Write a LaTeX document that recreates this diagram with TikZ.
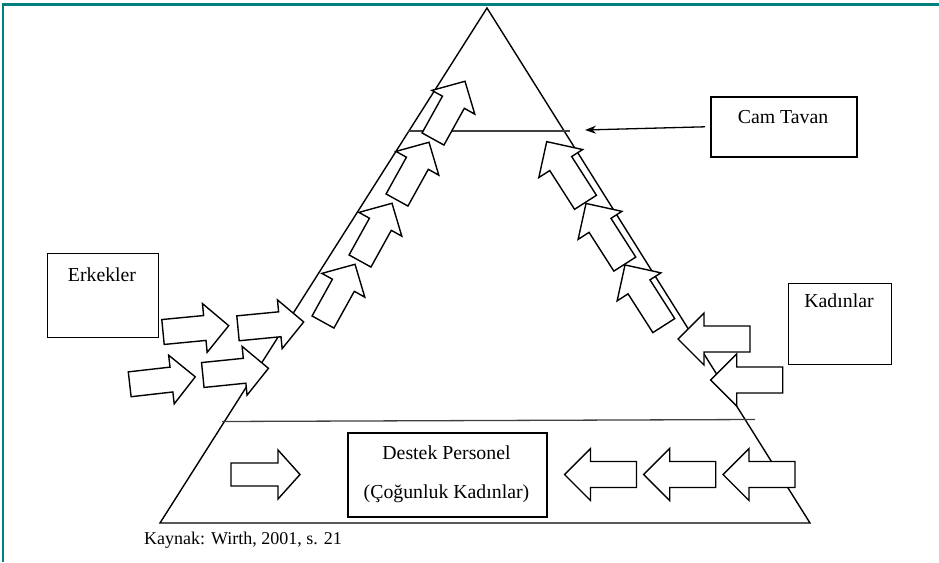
\documentclass[tikz,border=0pt]{standalone}
\usepackage{fontspec}
\setmainfont{Liberation Serif}
\usetikzlibrary{arrows.meta}
\definecolor{frameteal}{RGB}{0,128,128}
\begin{document}
\begin{tikzpicture}[x=1pt,y=-1pt,
  arrowshape/.style={draw=black, fill=white, line width=1.4pt, line join=miter},
  box/.style={draw=black, line width=1.6pt, inner sep=0pt},
  lbl/.style={font=\fontsize{19.8}{24}\selectfont, inner sep=0pt},
  src/.style={font=\fontsize{18}{22}\selectfont, inner sep=0pt},
  smallarrow/.pic={\path[arrowshape] (0,-12.5) -- (42,-12.5) -- (42,-24.5) -- (66,0) -- (42,24.5) -- (42,12.5) -- (0,12.5) -- cycle;},
  bigarrow/.pic={\path[arrowshape] (0,-13) -- (46,-13) -- (46,-26) -- (72,0) -- (46,26) -- (46,13) -- (0,13) -- cycle;},
  midarrow/.pic={\path[arrowshape] (0,-11.5) -- (47,-11.5) -- (47,-24.5) -- (69,0) -- (47,24.5) -- (47,11.5) -- (0,11.5) -- cycle;}
]
\useasboundingbox (0,0) rectangle (939,562);
% frame
\draw[frameteal, line width=2.2pt] (3,562) -- (3,4.5) -- (939,4.5);
% pyramid
\coordinate (apex) at (487,8);
\coordinate (bl) at (160,523);
\coordinate (br) at (810,523);
\draw[line width=1.4pt, line join=miter] (bl) -- (apex) -- (br) -- cycle;
\coordinate (c1) at (408,131);
\coordinate (c2) at (570,131);
\coordinate (s1) at (222,421.5);
\coordinate (s2) at (755,419.5);
\draw[line width=1.3pt, black!75] (c1) -- (c2);
\draw[line width=1.3pt, black!75] (s1) -- (s2);
% men arrows
\pic[rotate=5.5] at (163,332) {smallarrow};
\pic[rotate=5.5] at (238,328.3) {smallarrow};
\pic[rotate=6.5] at (129.7,384.3) {smallarrow};
\pic[rotate=5.8] at (202.8,375) {smallarrow};
% left side arrows
\pic[rotate=61] at (323,322) {smallarrow};
\pic[rotate=61] at (360,261) {smallarrow};
\pic[rotate=61] at (397,200) {smallarrow};
\pic[rotate=61] at (433,139) {smallarrow};
% right side arrows
\pic[rotate=122.6] at (585.5,202.3) {bigarrow};
\pic[rotate=122.6] at (624.8,264.1) {bigarrow};
\pic[rotate=122.6] at (663.8,325.6) {bigarrow};
% women arrows
\pic[rotate=180] at (750,339) {bigarrow};
\pic[rotate=180] at (782.7,380) {bigarrow};
% bottom arrows
\pic at (231,474.5) {midarrow};
\pic[rotate=180] at (636.5,474.5) {bigarrow};
\pic[rotate=180] at (715.7,474.5) {bigarrow};
\pic[rotate=180] at (795,474.5) {bigarrow};
% boxes
\node[box, minimum width=111pt, minimum height=84pt, anchor=north west] (erk) at (46.5,252.5) {};
\node[lbl, anchor=base] (erkt) at (102,281) {Erkekler};
\node[box, minimum width=103pt, minimum height=81pt, anchor=north west] (kad) at (787.5,282.5) {};
\node[lbl, anchor=base] (kadt) at (839,307.5) {Kadınlar};
\node[box, minimum width=146pt, minimum height=60pt, anchor=north west] (cam) at (710,96) {};
\node[lbl, anchor=base] (camt) at (783,123.5) {Cam Tavan};
\node[box, minimum width=199pt, minimum height=84pt, anchor=north west] (dest) at (347,432) {};
\node[lbl, anchor=base] (destt1) at (446.5,459) {Destek Personel};
\node[lbl, anchor=base] (destt2) at (446.5,498) {(Çoğunluk Kadınlar)};
\node[src, anchor=base west] (kaynak) at (144,544.5) {Kaynak: Wirth, 2001, s. 21};
% glass ceiling pointer
\coordinate (ceil) at (585,130);
\draw[line width=1.3pt, -{Stealth[length=11pt, width=8pt]}] ([xshift=-5pt]cam.west) -- (ceil);
\end{tikzpicture}
\end{document}
